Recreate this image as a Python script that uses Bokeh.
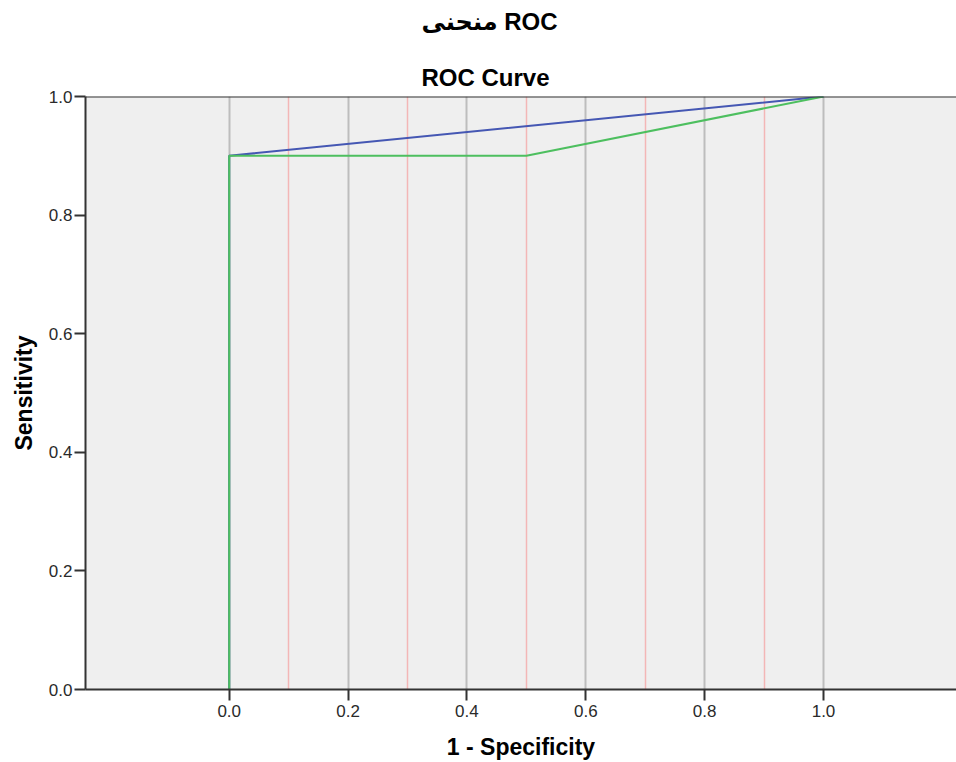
from bokeh.plotting import figure
from bokeh.models import Range1d, FixedTicker, PrintfTickFormatter, Grid, Span, Title
from bokeh.embed import file_html
from bokeh.resources import INLINE

# ---- data ----
title_main = "منحنی ROC"
title_sub = "ROC Curve"
x_label = "1 - Specificity"
y_label = "Sensitivity"

blue_fpr = [0.0, 0.0, 1.0]
blue_tpr = [0.0, 0.9, 1.0]
green_fpr = [0.0, 0.0, 0.5, 1.0]
green_tpr = [0.0, 0.9, 0.9, 1.0]

x_ticks = [0.0, 0.2, 0.4, 0.6, 0.8, 1.0]
y_ticks = [0.0, 0.2, 0.4, 0.6, 0.8, 1.0]
minor_grid = [0.1, 0.3, 0.5, 0.7, 0.9]

FONT = "Liberation Sans, DejaVu Sans"

p = figure(width=956, height=762, output_backend="svg", toolbar_location=None,
           x_range=Range1d(-0.2418, 1.2238), y_range=Range1d(0, 1),
           min_border_left=85, min_border_right=0, min_border_top=96,
           min_border_bottom=72, title=None)

p.background_fill_color = "#EFEFEF"
p.border_fill_color = "white"
p.outline_line_color = None

# titles (two lines in one title block)
t = Title(text=title_main + "\n\n" + title_sub, align="left", offset=336, standoff=10,
          text_font=FONT, text_font_size="24px", text_font_style="bold",
          text_color="black", text_line_height=1.05)
p.add_layout(t, "above")

# grids
p.ygrid.visible = False
p.xgrid.ticker = FixedTicker(ticks=x_ticks)
p.xgrid.grid_line_color = "#BDBDBD"
p.xgrid.grid_line_width = 2
pink = Grid(dimension=0, ticker=FixedTicker(ticks=minor_grid),
            grid_line_color="#F3B6B6", grid_line_width=1.5)
p.add_layout(pink)

# top border
p.add_layout(Span(location=1.0, dimension="width", line_color="#333333", line_width=2))

# lines
p.line(blue_fpr, blue_tpr, line_color="#4557B3", line_width=2)
p.line(green_fpr, green_tpr, line_color="#4DBF5F", line_width=2)

for ax, ticks in ((p.xaxis, x_ticks), (p.yaxis, y_ticks)):
    ax.ticker = FixedTicker(ticks=ticks)
    ax.formatter = PrintfTickFormatter(format="%.1f")
    ax.minor_tick_line_color = None
    ax.major_tick_in = 0
    ax.major_tick_out = 11
    ax.major_tick_line_color = "#333333"
    ax.major_tick_line_width = 2
    ax.axis_line_color = "#333333"
    ax.axis_line_width = 2
    ax.major_label_text_font = FONT
    ax.major_label_text_font_size = "17px"
    ax.major_label_text_color = "#2a2a2a"
    ax.axis_label_text_font = FONT
    ax.axis_label_text_font_size = "23px"
    ax.axis_label_text_font_style = "bold"
    ax.axis_label_text_color = "black"

p.xaxis.axis_label = x_label
p.yaxis.axis_label = y_label
p.xaxis.major_label_standoff = 4
p.xaxis.axis_label_standoff = 14
p.yaxis.major_label_standoff = 2
p.yaxis.axis_label_standoff = 9

open("out.html", "w").write(file_html(p, INLINE))
